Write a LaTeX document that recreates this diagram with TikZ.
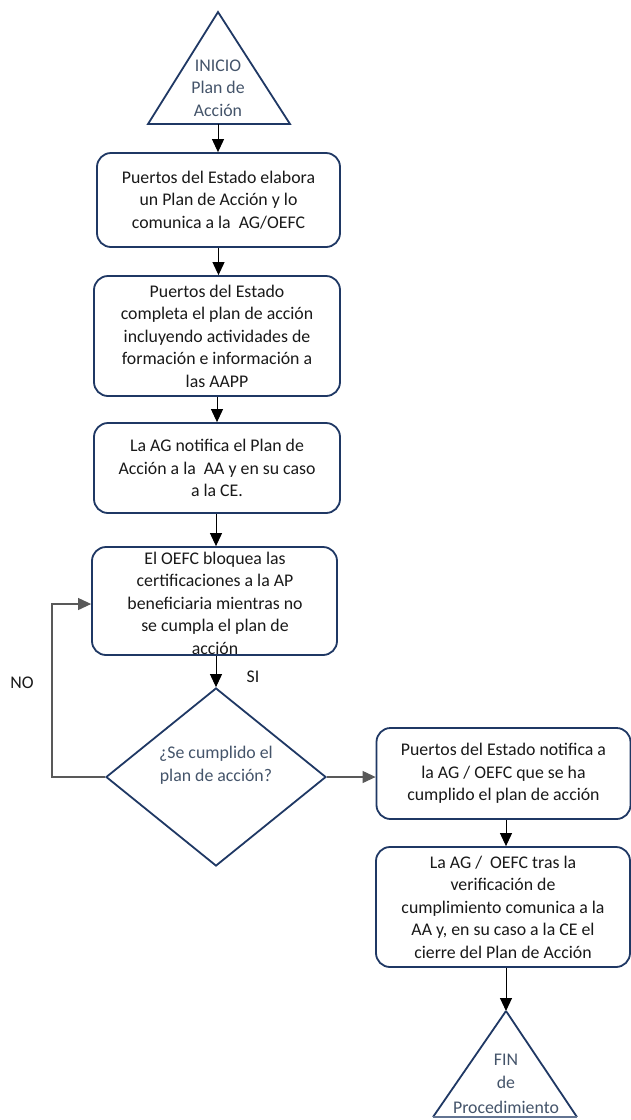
\documentclass[tikz,border=0pt]{standalone}
\usepackage{fontspec}
\setmainfont{Carlito}
\usetikzlibrary{shapes.geometric,arrows.meta,calc}
\definecolor{navy}{HTML}{1F3864}
\definecolor{slate}{HTML}{44546A}
\definecolor{linegray}{HTML}{595959}
\tikzset{
  x=1pt, y=-1pt,
  stepbox/.style={draw=navy, line width=1.8pt, rounded corners=14pt, fill=white, inner sep=0pt},
  txt/.style={align=center, inner sep=0pt, font=\fontsize{17.8}{22.5}\selectfont, text=black!90},
  shapetxt/.style={align=center, inner sep=0pt, font=\fontsize{17.8}{22.5}\selectfont, text=slate},
  term/.style={draw=navy, line width=1.8pt, line join=miter, fill=white},
  arr/.style={-{Triangle[length=13pt,width=12pt]}, line width=1pt, draw=black},
  garr/.style={-{Triangle[length=13pt,width=12pt]}, line width=1.1pt, draw=linegray},
}
\begin{document}
\begin{tikzpicture}
\useasboundingbox[fill=white] (0,0) rectangle (631,1120);
% start triangle
\coordinate (sapex) at (218,12);
\coordinate (sbase) at (218,124);
\draw[term] (sapex) -- (290,124) -- (148,124) -- cycle;
\node[shapetxt] (stxt) at (218,88) {INICIO\\Plan de\\Acción};
% boxes
\node[stepbox, minimum width=243pt, minimum height=94pt] (b1) at (218.5,200) {};
\node[txt] (t1) at (b1) {Puertos del Estado elabora\\un Plan de Acción y lo\\comunica a la \ AG/OEFC};
\node[stepbox, minimum width=246pt, minimum height=120pt] (b2) at (217,336) {};
\node[txt] (t2) at (b2) {Puertos del Estado\\completa el plan de acción\\incluyendo actividades de\\formación e información a\\las AAPP};
\node[stepbox, minimum width=246pt, minimum height=90pt] (b3) at (217,468) {};
\node[txt] (t3) at (b3) {La AG notifica el Plan de\\Acción a la \ AA y en su caso\\a la CE.};
\node[stepbox, minimum width=245pt, minimum height=108pt] (b4) at (214.5,601) {};
\node[txt] (t4) at (215,603) {El OEFC bloquea las\\certificaciones a la AP\\beneficiaria mientras no\\se cumpla el plan de\\acción};
% decision
\node[draw=navy, line width=1.8pt, shape=diamond, minimum width=220pt, minimum height=178pt, inner sep=0pt, fill=white] (d) at (216,777) {};
\node[shapetxt] (dt) at (216,765) {¿Se cumplido el\\plan de acción?};
% right boxes
\node[stepbox, minimum width=254pt, minimum height=91pt] (b5) at (503.5,773.5) {};
\node[txt] (t5) at (b5) {Puertos del Estado notifica a\\la AG / OEFC que se ha\\cumplido el plan de acción};
\node[stepbox, minimum width=254pt, minimum height=120pt] (b6) at (503,907) {};
\node[txt] (t6) at (b6) {La AG / \ OEFC tras la\\verificación de\\cumplimiento comunica a la\\AA y, en su caso a la CE el\\cierre del Plan de Acción};
% end triangle
\coordinate (eapex) at (506,1011);
\draw[term] (eapex) -- (577,1117);
\draw[term] (eapex) -- (433,1117);
\draw[draw=navy!70, line width=1.2pt] (433,1117) -- (577,1117);
\node[shapetxt] (etxt) at (506,1084) {FIN\\de\\[3pt]Procedimiento};
% connectors
\draw[arr] (sbase) -- (b1.north -| sbase);
\draw[arr] (b1.south) -- (b2.north -| b1.south);
\draw[arr] (b2.south) -- (b3.north -| b2.south);
\draw[arr] (b3.south -| 216,0) -- (b4.north -| 216,0);
\draw[arr] (b4.south -| d.north) -- (d.north);
\draw[garr] (d.east) -- (d.east -| b5.west);
\coordinate (loopc) at (52,0);
\draw[garr] (d.west) -- (d.west -| loopc) -- (loopc |- 0,604) -- (b4.west |- 0,604);
\draw[arr] (b5.south -| eapex) -- (b6.north -| eapex);
\draw[arr] (b6.south -| eapex) -- (eapex);
% labels
\node[txt] (si) at (253,677) {SI};
\node[txt] (no) at (22,683) {NO};
\end{tikzpicture}
\end{document}
